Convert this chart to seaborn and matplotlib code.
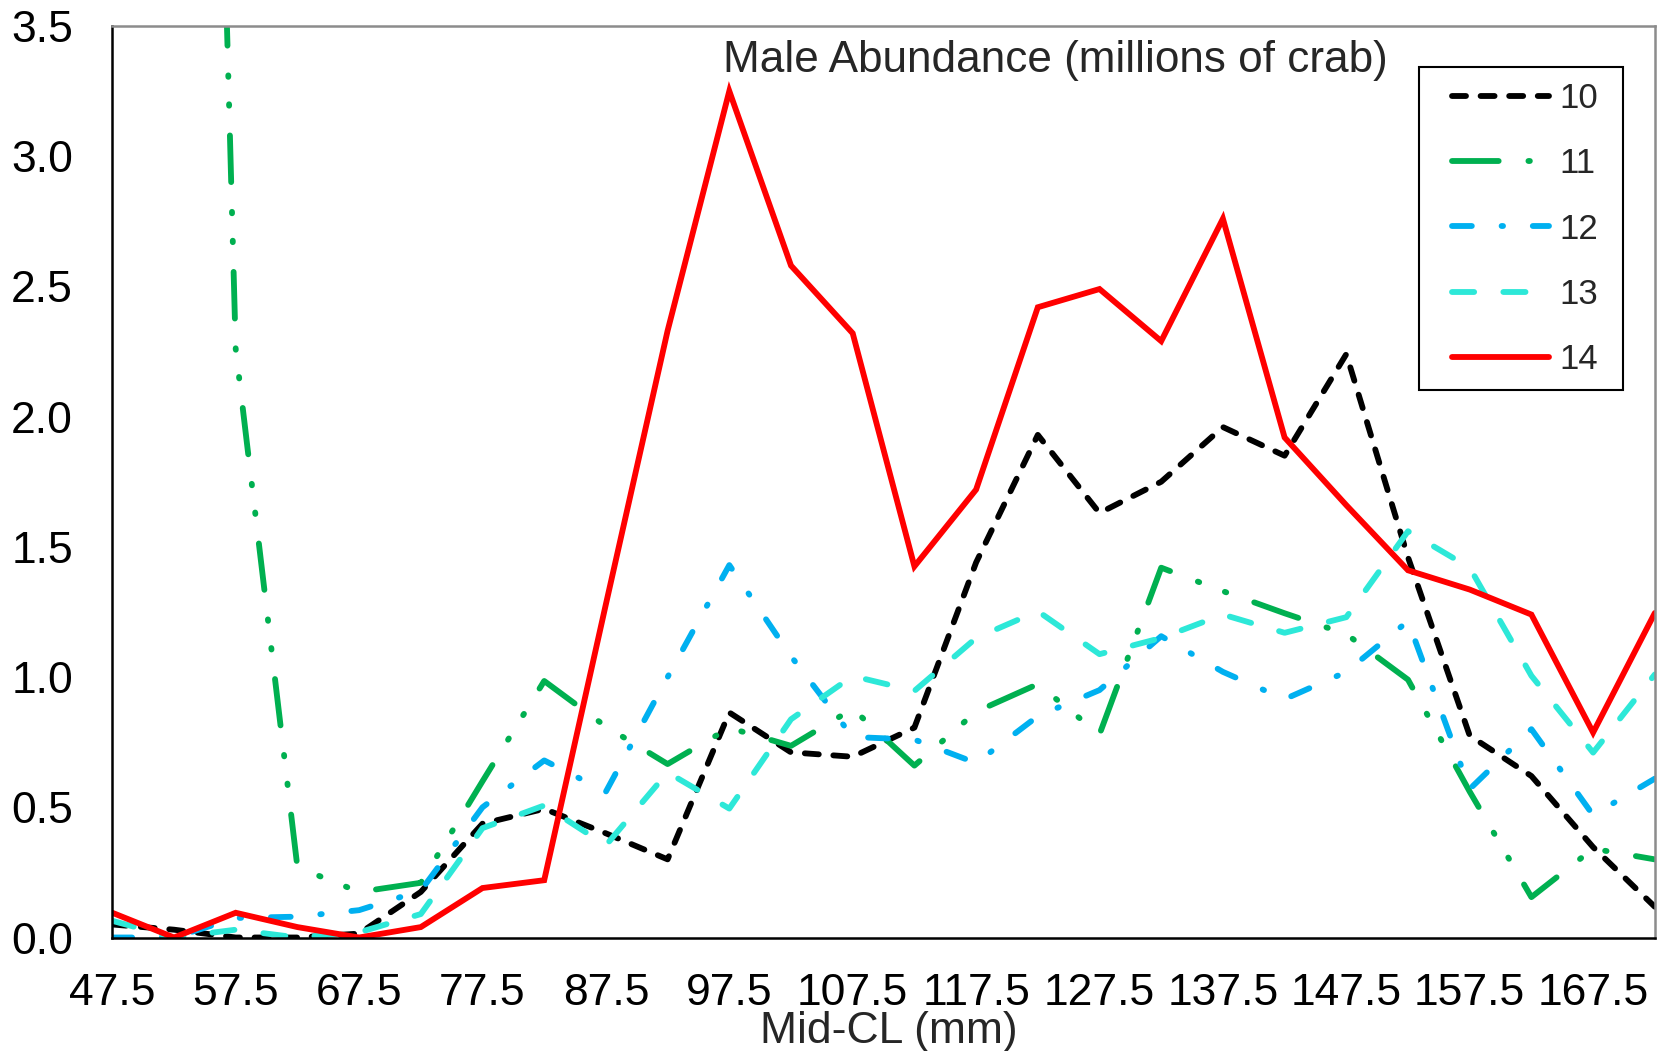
import matplotlib
matplotlib.use("Agg")
import matplotlib.pyplot as plt
import numpy as np
import pandas as pd
import seaborn as sns
from matplotlib.patches import Rectangle

sns.set_style("white")
plt.rcParams["font.family"] = ["Liberation Sans", "DejaVu Sans"]

# carapace length mid-points (mm)
mid_cl = [47.5, 52.5, 57.5, 62.5, 67.5, 72.5, 77.5, 82.5, 87.5, 92.5, 97.5, 102.5, 107.5,
          112.5, 117.5, 122.5, 127.5, 132.5, 137.5, 142.5, 147.5, 152.5, 157.5, 162.5,
          167.5, 172.5]

# male abundance (millions of crab) by survey year
yr10 = [0.05, 0.03, 0.0, 0.0, 0.015, 0.175, 0.437, 0.494, 0.40, 0.30, 0.864, 0.711, 0.694,
        0.806, 1.44, 1.93, 1.63, 1.75, 1.96, 1.85, 2.24, 1.46, 0.775, 0.62, 0.347, 0.118]
yr11 = [np.nan, 11.0, 2.26, 0.27, 0.175, 0.21, 0.60, 0.985, 0.81, 0.666, 0.805, 0.736, 0.878,
        0.66, 0.867, 0.973, 0.78, 1.42, 1.33, 1.245, 1.165, 0.99, 0.56, 0.155, 0.341, 0.30]
yr12 = [0.0, 0.0, 0.075, 0.08, 0.105, 0.18, 0.50, 0.68, 0.56, 1.0, 1.43, 1.08, 0.77,
        0.76, 0.67, 0.85, 0.95, 1.157, 1.02, 0.915, 1.02, 1.215, 0.57, 0.80, 0.47, 0.61]
yr13 = [0.064, 0.0, 0.03, 0.0, 0.02, 0.09, 0.42, 0.507, 0.354, 0.634, 0.495, 0.838, 1.004,
        0.947, 1.15, 1.253, 1.088, 1.15, 1.24, 1.17, 1.23, 1.56, 1.42, 1.005, 0.71, 1.01]
yr14 = [0.095, 0.0, 0.095, 0.04, 0.0, 0.04, 0.19, 0.22, 1.28, 2.33, 3.25, 2.58, 2.32,
        1.425, 1.72, 2.42, 2.49, 2.29, 2.76, 1.92, 1.66, 1.41, 1.336, 1.24, 0.787, 1.246]

years = ["10", "11", "12", "13", "14"]
series = [yr10, yr11, yr12, yr13, yr14]

colors = {"10": "#000000", "11": "#00B050", "12": "#00B0F0", "13": "#2DE8D8", "14": "#FF0000"}
dashes = {
    "10": (2.4, 2.5),
    "11": (8.0, 5.1, 0.25, 4.7, 0.25, 5.1),
    "12": (3.4, 5.1, 0.25, 5.1),
    "13": (3.8, 5.0),
    "14": "",
}

frames = []
for yr, vals in zip(years, series):
    frames.append(pd.DataFrame({"mid_cl": mid_cl, "abundance": vals, "year": yr}))
df = pd.concat(frames, ignore_index=True).dropna()

fig = plt.figure(figsize=(16.65, 10.51), dpi=100)
ax = fig.add_axes([0.06745, 0.10799, 0.92643, 0.86727])

sns.lineplot(
    data=df, x="mid_cl", y="abundance", hue="year", style="year",
    palette=colors, dashes=dashes, hue_order=years, style_order=years,
    estimator=None, sort=False, legend=False, ax=ax,
)
for line in ax.get_lines():
    line.set_linewidth(4.2)
    line.set_dash_capstyle("round")
    line.set_solid_capstyle("round")
    line.set_solid_joinstyle("miter")

ax.set_xlim(47.5, 172.5)
ax.set_ylim(0, 3.5)
ax.set_xticks(mid_cl)
ax.set_xticklabels([f"{v:g}" if i % 2 == 0 else "" for i, v in enumerate(mid_cl)])
ax.set_yticks([0, 0.5, 1.0, 1.5, 2.0, 2.5, 3.0, 3.5])
ax.set_yticklabels(["0.0", "0.5", "1.0", "1.5", "2.0", "2.5", "3.0", "3.5"])

ax.tick_params(axis="both", direction="inout", length=21, width=1.4, color="black",
               labelsize=32, labelcolor="black")
ax.tick_params(axis="y", pad=17.8)
ax.tick_params(axis="x", pad=15)

for side in ["left", "bottom"]:
    ax.spines[side].set_color("black")
    ax.spines[side].set_linewidth(1.8)
for side in ["top", "right"]:
    ax.spines[side].set_color("#8c8c8c")
    ax.spines[side].set_linewidth(1.8)

ax.set_ylabel("")
ax.set_xlabel("Mid-CL (mm)", fontsize=32)
ax.xaxis.set_label_coords(0.5035, -0.1157)
ax.xaxis.label.set_va("baseline")

ax.text(0.396, 0.95, "Male Abundance (millions of crab)", transform=ax.transAxes,
        fontsize=31.8, ha="left", va="baseline")

# legend box drawn separately for Excel-like padding, content on top of it
box = Rectangle((1419.3 / 1665, 1 - 390 / 1051), 204 / 1665, 322.7 / 1051,
                transform=fig.transFigure, facecolor="white", edgecolor="black",
                linewidth=1.5, zorder=4, clip_on=False)
ax.add_patch(box)
leg = ax.legend(
    handles=ax.get_lines(), labels=years,
    loc="upper left", bbox_to_anchor=(1451.7 / 1665, 1 - 82 / 1051),
    bbox_transform=fig.transFigure,
    fontsize=25, handlelength=2.8, handletextpad=0.3, labelspacing=0.93,
    borderpad=0, frameon=False, borderaxespad=0,
)
leg.set_zorder(6)

fig.savefig("out.png", dpi=100)
